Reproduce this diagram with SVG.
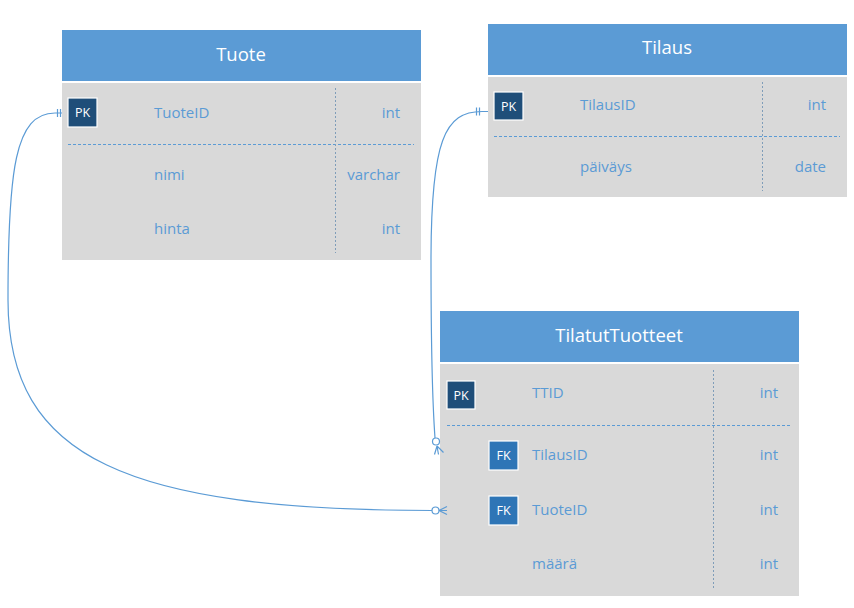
<svg xmlns="http://www.w3.org/2000/svg" width="854" height="608" viewBox="0 0 854 608">
  <style>
    .hdr { fill: #5B9BD5; }
    .body { fill: #D9D9D9; }
    .title { font-family: "Open Sans", "Noto Sans", "Liberation Sans", sans-serif; font-size: 18.5px; fill: #FFFFFF; text-anchor: middle; }
    .fld { font-family: "Open Sans", "Noto Sans", "Liberation Sans", sans-serif; font-size: 15px; fill: #5B9BD5; }
    .typ { font-family: "Open Sans", "Noto Sans", "Liberation Sans", sans-serif; font-size: 15px; fill: #5B9BD5; text-anchor: end; }
    .key { stroke: #FFFFFF; stroke-width: 1.2; }
    .pk { fill: #1F4E79; }
    .fk { fill: #2E75B6; }
    .keyt { font-family: "Open Sans", "Noto Sans", "Liberation Sans", sans-serif; font-size: 12.5px; fill: #FFFFFF; text-anchor: middle; }
    .sep { stroke: #5B9BD5; stroke-width: 1; stroke-dasharray: 3 2; fill: none; }
    .col { stroke: #7F9DB9; stroke-width: 1; stroke-dasharray: 2 2; fill: none; }
    .rel { stroke: #5B9BD5; stroke-width: 1.2; fill: none; }
  </style>

  <g id="Tuote">
    <rect class="hdr" x="62" y="30" width="359" height="51"/>
    <rect class="body" x="62" y="83" width="359" height="177"/>
    <text class="title" x="241" y="61">Tuote</text>
    <rect class="key pk" x="68" y="98" width="29" height="29"/>
    <text class="keyt" x="82.5" y="117">PK</text>
    <line class="sep" x1="68" y1="144.5" x2="414" y2="144.5"/>
    <line class="col" x1="335.5" y1="88" x2="335.5" y2="253"/>
    <text class="fld" x="154" y="118">TuoteID</text>
    <text class="typ" x="400" y="118">int</text>
    <text class="fld" x="154" y="180">nimi</text>
    <text class="typ" x="400" y="180">varchar</text>
    <text class="fld" x="154" y="234">hinta</text>
    <text class="typ" x="400" y="234">int</text>
  </g>

  <g id="Tilaus">
    <rect class="hdr" x="488" y="24" width="359" height="51"/>
    <rect class="body" x="488" y="77" width="359" height="120"/>
    <text class="title" x="667" y="54">Tilaus</text>
    <rect class="key pk" x="494" y="92" width="29" height="28"/>
    <text class="keyt" x="508.5" y="110.5">PK</text>
    <line class="sep" x1="494" y1="136.5" x2="840" y2="136.5"/>
    <line class="col" x1="762.5" y1="82" x2="762.5" y2="191"/>
    <text class="fld" x="580" y="110">TilausID</text>
    <text class="typ" x="826" y="110">int</text>
    <text class="fld" x="580" y="172">päiväys</text>
    <text class="typ" x="826" y="172">date</text>
  </g>

  <g id="TilatutTuotteet">
    <rect class="hdr" x="440" y="311" width="359" height="51"/>
    <rect class="body" x="440" y="364" width="359" height="232"/>
    <text class="title" x="619" y="342">TilatutTuotteet</text>
    <rect class="key pk" x="447" y="381" width="28" height="28"/>
    <text class="keyt" x="461" y="399.5">PK</text>
    <rect class="key fk" x="489" y="441" width="29" height="29"/>
    <text class="keyt" x="503.5" y="460">FK</text>
    <rect class="key fk" x="489" y="496" width="29" height="29"/>
    <text class="keyt" x="503.5" y="515">FK</text>
    <line class="sep" x1="447" y1="425.5" x2="792" y2="425.5"/>
    <line class="col" x1="713.5" y1="370" x2="713.5" y2="590"/>
    <text class="fld" x="532" y="398">TTID</text>
    <text class="typ" x="778" y="398">int</text>
    <text class="fld" x="532" y="460">TilausID</text>
    <text class="typ" x="778" y="460">int</text>
    <text class="fld" x="532" y="515">TuoteID</text>
    <text class="typ" x="778" y="515">int</text>
    <text class="fld" x="532" y="569">määrä</text>
    <text class="typ" x="778" y="569">int</text>
  </g>

  <g id="connectors">
    <!-- Tuote.TuoteID (one) to TilatutTuotteet.TuoteID (many) -->
    <path class="rel" d="M62,113 L55,113 C15,113 8,170 8,300 C8,460 130,510 432,510.5"/>
    <line class="rel" x1="57.5" y1="109" x2="57.5" y2="117"/>
    <line class="rel" x1="60.5" y1="109" x2="60.5" y2="117"/>
    <circle class="rel" cx="435.5" cy="510.5" r="3.5" fill="#FFFFFF"/>
    <path class="rel" d="M439,510.5 L447,506.5 M439,510.5 L447,510.5 M439,510.5 L447,514.5"/>

    <!-- Tilaus.TilausID (one) to TilatutTuotteet.TilausID (many) -->
    <path class="rel" d="M488,111.5 L482,111.5 C445,111.5 431,140 431,260 C431,360 433,410 435,438"/>
    <line class="rel" x1="476.5" y1="107.5" x2="476.5" y2="115.5"/>
    <line class="rel" x1="479.5" y1="107.5" x2="479.5" y2="115.5"/>
    <circle class="rel" cx="436" cy="441.5" r="3.5" fill="#FFFFFF"/>
    <path class="rel" d="M437,446 L434.5,454.5 M437,446 L438.5,454.5 M437,446 L443.5,452.5"/>
  </g>
</svg>
